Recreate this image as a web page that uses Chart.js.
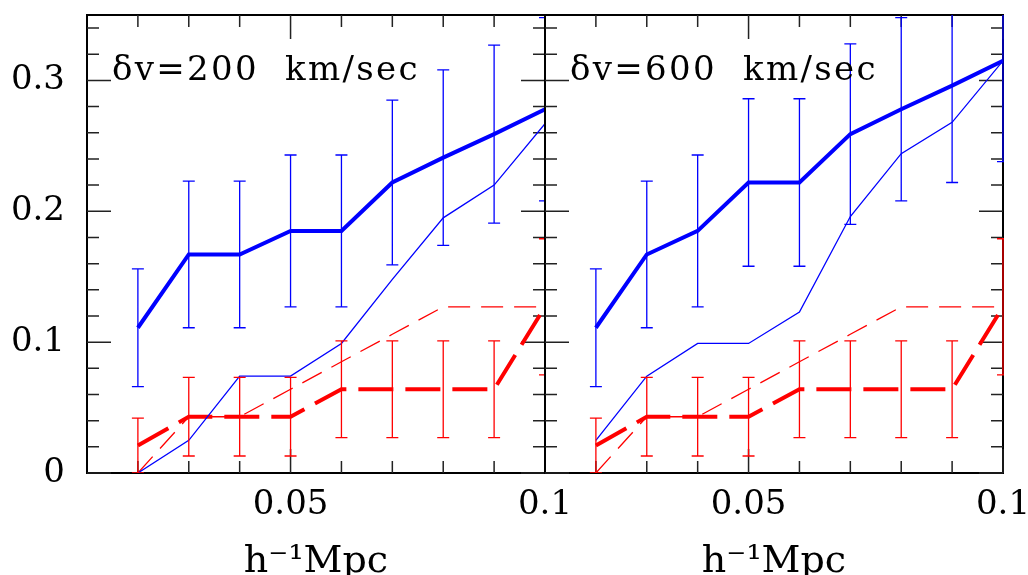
<!DOCTYPE html>
<html>
<head>
<meta charset="utf-8">
<script src="https://cdn.jsdelivr.net/npm/chart.js@4.4.1/dist/chart.umd.min.js"></script>
<style>
  html, body { margin: 0; padding: 0; background: #fff; overflow: hidden; }
  #wrap { position: relative; width: 1028px; height: 575px; overflow: hidden; }
  canvas { position: absolute; top: 0; }
  #leftChart { left: 0; }
  #rightChart { left: 530px; }
</style>
</head>
<body>
<div id="wrap">
  <canvas id="leftChart" width="600" height="575"></canvas>
  <canvas id="rightChart" width="530" height="575"></canvas>
</div>
<script>
// separation bins (h^-1 Mpc)
const xValues = [0.02, 0.03, 0.04, 0.05, 0.06, 0.07, 0.08, 0.09, 0.1];

// dv = 200 km/sec
const blueThick200 = [0.111, 0.167, 0.167, 0.185, 0.185, 0.222, 0.241, 0.259, 0.278];
const blueErr200   = [0.045, 0.056, 0.056, 0.058, 0.058, 0.063, 0.067, 0.068, 0.070];
const blueThin200  = [0, 0.025, 0.074, 0.074, 0.099, 0.148, 0.195, 0.220, 0.267];
const redThick200  = [0.021, 0.043, 0.043, 0.043, 0.064, 0.064, 0.064, 0.064, 0.127];
const redErr200    = [0.021, 0.030, 0.030, 0.030, 0.037, 0.037, 0.037, 0.037, 0.052];
const redThin200   = [0, 0.043, 0.043, 0.064, 0.085, 0.106, 0.127, 0.127, 0.127];

// dv = 600 km/sec
const blueThick600 = [0.111, 0.167, 0.185, 0.222, 0.222, 0.259, 0.278, 0.296, 0.315];
const blueErr600   = [0.045, 0.056, 0.058, 0.064, 0.064, 0.069, 0.070, 0.074, 0.077];
const blueThin600  = [0.025, 0.074, 0.099, 0.099, 0.123, 0.196, 0.244, 0.268, 0.315];
const redThick600  = [0.021, 0.043, 0.043, 0.043, 0.064, 0.064, 0.064, 0.064, 0.127];
const redErr600    = [0.021, 0.030, 0.030, 0.030, 0.037, 0.037, 0.037, 0.037, 0.052];
const redThin600   = [0, 0.043, 0.043, 0.064, 0.085, 0.106, 0.127, 0.127, 0.127];

// axis ticks
const xLabelTicks = [0.05, 0.1];
const xMinorTicks = [0.02, 0.03, 0.04, 0.06, 0.07, 0.08, 0.09];
const yLabelTicks = [0, 0.1, 0.2, 0.3];
const yMinorTicks = [0.02, 0.04, 0.06, 0.08, 0.12, 0.14, 0.16, 0.18, 0.22, 0.24, 0.26, 0.28, 0.32, 0.34];

const serif = '"DejaVu Serif", "Liberation Serif", serif';
const BLUE = '#0000ff';
const RED = '#ff0000';

function pts(ys) {
  return xValues.map((x, i) => ({ x: x, y: ys[i] }));
}

// box around the panel with inward ticks on all four sides
const framePlugin = {
  id: 'frame',
  beforeDatasetsDraw(chart) {
    const { ctx, chartArea: a, scales: { x, y } } = chart;
    ctx.save();
    ctx.strokeStyle = '#000';
    ctx.lineWidth = 2;
    ctx.strokeRect(a.left, a.top, a.right - a.left, a.bottom - a.top);
    ctx.strokeStyle = '#222';
    ctx.lineWidth = 1.5;
    ctx.beginPath();
    const xt = (v, len) => {
      const p = x.getPixelForValue(v);
      ctx.moveTo(p, a.bottom); ctx.lineTo(p, a.bottom - len);
      ctx.moveTo(p, a.top); ctx.lineTo(p, a.top + len);
    };
    const yt = (v, len) => {
      const p = y.getPixelForValue(v);
      ctx.moveTo(a.left, p); ctx.lineTo(a.left + len, p);
      ctx.moveTo(a.right, p); ctx.lineTo(a.right - len, p);
    };
    xMinorTicks.forEach(v => xt(v, 12));
    xLabelTicks.forEach(v => xt(v, 24));
    yMinorTicks.forEach(v => yt(v, 12));
    yLabelTicks.forEach(v => yt(v, 24));
    ctx.stroke();
    ctx.restore();
  }
};

// vertical error bars with caps
const errorBarPlugin = {
  id: 'errbars',
  afterDatasetsDraw(chart, args, opts) {
    const { ctx, chartArea: a, scales: { x, y } } = chart;
    ctx.save();
    ctx.beginPath();
    ctx.rect(a.left, a.top, a.right - a.left + 1, a.bottom - a.top);
    ctx.clip();
    ctx.lineWidth = 1.3;
    (opts.sets || []).forEach(s => {
      ctx.strokeStyle = s.color;
      ctx.beginPath();
      xValues.forEach((xv, i) => {
        const px = x.getPixelForValue(xv);
        const lo = y.getPixelForValue(s.values[i] - s.errors[i]);
        const hi = y.getPixelForValue(s.values[i] + s.errors[i]);
        ctx.moveTo(px, lo); ctx.lineTo(px, hi);
        ctx.moveTo(px - 6, lo); ctx.lineTo(px + 6, lo);
        ctx.moveTo(px - 6, hi); ctx.lineTo(px + 6, hi);
      });
      ctx.stroke();
    });
    ctx.restore();
  }
};

// panel label in the upper left corner
const labelPlugin = {
  id: 'panelLabel',
  afterDraw(chart, args, opts) {
    const { ctx, chartArea: a } = chart;
    ctx.save();
    ctx.font = '34px ' + serif;
    ctx.fillStyle = '#000';
    ctx.textBaseline = 'alphabetic';
    ctx.letterSpacing = '2.3px';
    ctx.fillText(opts.text, a.left + 25, a.top + 65);
    ctx.restore();
  }
};

function makeChart(canvasId, d, showY, padding, labelText) {
  const ctx = document.getElementById(canvasId).getContext('2d');
  return new Chart(ctx, {
    type: 'line',
    data: {
      datasets: [
        { data: pts(d.blueThick), borderColor: BLUE, borderWidth: 4 },
        { data: pts(d.blueThin), borderColor: BLUE, borderWidth: 1.3 },
        { data: pts(d.redThick), borderColor: RED, borderWidth: 4, borderDash: [35, 12] },
        { data: pts(d.redThin), borderColor: RED, borderWidth: 1.3, borderDash: [22, 11] },
      ],
    },
    options: {
      responsive: false,
      animation: false,
      events: [],
      layout: { padding: padding },
      elements: {
        point: { radius: 0 },
        line: { tension: 0, fill: false },
      },
      scales: {
        x: {
          type: 'linear',
          min: 0.01,
          max: 0.1,
          grid: { display: false, drawTicks: false },
          border: { display: false },
          afterBuildTicks: s => { s.ticks = xLabelTicks.map(v => ({ value: v })); },
          afterFit: s => { s.height = 102; s.paddingLeft = 0; s.paddingRight = 0; },
          ticks: {
            font: { family: serif, size: 34 },
            color: '#000',
            padding: 12,
            maxRotation: 0,
            autoSkip: false,
            callback: v => String(v),
          },
          title: {
            display: true,
            text: 'h⁻¹Mpc',
            color: '#000',
            font: { family: serif, size: 38, lineHeight: 0.6 },
            padding: { top: 0, bottom: 1 },
          },
        },
        y: {
          display: showY,
          min: 0,
          max: 0.35,
          grid: { display: false, drawTicks: false },
          border: { display: false },
          afterBuildTicks: s => { s.ticks = yLabelTicks.map(v => ({ value: v })); },
          afterFit: s => { s.width = showY ? 87 : 0; s.paddingTop = 0; s.paddingBottom = 0; },
          ticks: {
            font: { family: serif, size: 34 },
            color: '#000',
            padding: 22,
            callback: v => String(v),
          },
        },
      },
      plugins: {
        legend: { display: false },
        tooltip: { enabled: false },
        errbars: {
          sets: [
            { values: d.blueThick, errors: d.blueErr, color: BLUE },
            { values: d.redThick, errors: d.redErr, color: RED },
          ],
        },
        panelLabel: { text: labelText },
      },
    },
    plugins: [framePlugin, errorBarPlugin, labelPlugin],
  });
}

makeChart('leftChart', {
  blueThick: blueThick200, blueErr: blueErr200, blueThin: blueThin200,
  redThick: redThick200, redErr: redErr200, redThin: redThin200,
}, true, { left: 0, top: 15, right: 55, bottom: 0 }, 'δv=200  km/sec');

makeChart('rightChart', {
  blueThick: blueThick600, blueErr: blueErr600, blueThin: blueThin600,
  redThick: redThick600, redErr: redErr600, redThin: redThin600,
}, false, { left: 15, top: 15, right: 57, bottom: 0 }, 'δv=600  km/sec');
</script>
</body>
</html>
